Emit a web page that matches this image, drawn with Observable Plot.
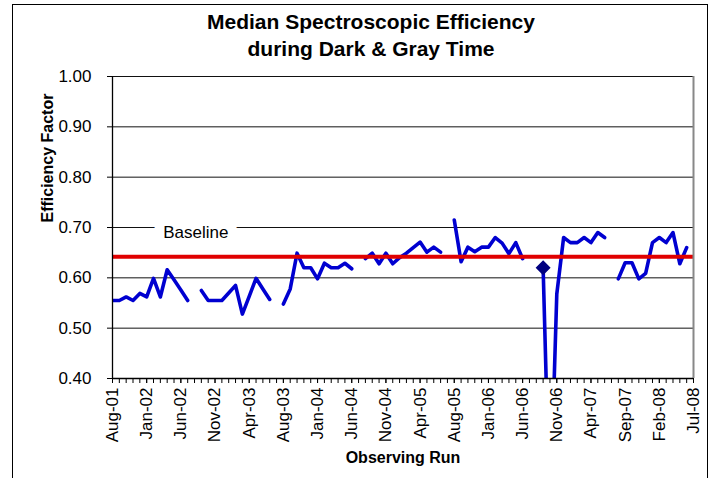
<!DOCTYPE html>
<html>
<head>
<meta charset="utf-8">
<script src="https://cdn.jsdelivr.net/npm/d3@7"></script>
<script src="https://cdn.jsdelivr.net/npm/@observablehq/plot@0.6"></script>
<style>
  html, body { margin: 0; padding: 0; background: #fff; width: 712px; height: 478px; overflow: hidden;
    font-family: "Liberation Sans", Arial, sans-serif; }
  #wrap { position: relative; width: 712px; height: 478px; }
  #title { box-sizing: border-box; padding: 8px 0 0 30px; width: 712px; height: 62px; text-align: center;
    font-weight: bold; font-size: 21px; line-height: 27px; color: #000; }
  #frame { position: absolute; left: 12px; top: 4px; width: 696px; height: 490px; border: 1px solid #000;
    pointer-events: none; box-sizing: border-box; }
  #chart svg { display: block; }
</style>
</head>
<body>
<div id="wrap">
  <div id="title">Median Spectroscopic Efficiency<br>during Dark &amp; Gray Time</div>
  <div id="chart"></div>
  <div id="frame"></div>
</div>
<script>
// Median efficiency per observing run (index 0 = Aug-01 ... 85 = Jul-08); null = no data
const efficiency = [
  0.555, 0.555, 0.562, 0.555, 0.569, 0.562, 0.599, 0.562, 0.616, 0.596,
  0.576, 0.555, null,  0.575, 0.555, 0.555, 0.555, 0.570, 0.585, 0.528,
  0.563, 0.599, 0.578, 0.557, null,  0.548, 0.578, 0.649, 0.620, 0.620,
  0.598, 0.629, 0.620, 0.620, 0.629, 0.618, null,  0.638, 0.649, 0.628,
  0.649, 0.628, 0.640, 0.649, 0.660, 0.671, 0.651, 0.661, 0.651, null,
  0.715, 0.632, 0.661, 0.652, 0.661, 0.661, 0.680, 0.669, 0.648, 0.670,
  0.638, null,  null,  0.620, 0.120, 0.568, 0.680, 0.670, 0.670, 0.680,
  0.670, 0.690, 0.680, null,  0.598, 0.630, 0.630, 0.598, 0.609, 0.670,
  0.680, 0.670, 0.690, 0.628, 0.660, null
];
// Highlighted run (diamond marker)
const highlightRun = [63];
const highlightValue = [0.620];
// Baseline level
const baseline = 0.642;
const baselineLabel = ["Baseline"];
const baselineLabelRun = [12.2];
const baselineLabelValue = [0.690];
// Tick labels: every 5th observing run
const tickLabels = ["Aug-01","Jan-02","Jun-02","Nov-02","Apr-03","Aug-03","Jan-04","Jun-04","Nov-04",
  "Apr-05","Aug-05","Jan-06","Jun-06","Nov-06","Apr-07","Sep-07","Feb-08","Jul-08"];
const labelEvery = 5;
const yTicks = [0.40, 0.50, 0.60, 0.70, 0.80, 0.90, 1.00];
const yGrid = [0.50, 0.60, 0.70, 0.80, 0.90, 1.00];

const rows = efficiency.map((v, i) => ({run: i, value: v}));
const runIdx = rows.map(d => d.run);
const labelIdx = tickLabels.map((_, k) => k * labelEvery);
const highlight = highlightRun.map((r, k) => ({run: r, value: highlightValue[k]}));
const labelRows = baselineLabel.map((t, k) => ({text: t, run: baselineLabelRun[k], value: baselineLabelValue[k]}));
const lastRun = runIdx[runIdx.length - 1];

const chart = Plot.plot({
  width: 712,
  height: 416,
  marginLeft: 112,
  marginRight: 19,
  marginTop: 14,
  marginBottom: 100,
  style: {fontFamily: '"Liberation Sans", Arial, sans-serif', fontSize: "17px", color: "#000",
    background: "transparent", overflow: "visible"},
  x: {type: "linear", domain: [0, lastRun], label: null},
  y: {domain: [0.4, 1.0], label: null},
  marks: [
    Plot.gridY(yGrid, {stroke: "#111", strokeOpacity: 1, strokeWidth: 1}),
    Plot.text(labelRows, {x: "run", y: "value", text: "text", fontSize: 17, fill: "#000",
      stroke: "white", strokeWidth: 20, paintOrder: "stroke"}),
    Plot.line(rows, {x: "run", y: "value", stroke: "#0000d0", strokeWidth: 3.6, clip: true}),
    Plot.ruleY([baseline], {stroke: "#e00000", strokeWidth: 4}),
    Plot.dot(highlight, {x: "run", y: "value", symbol: "diamond2", r: 5.8, fill: "#000080", stroke: "#000080"}),
    Plot.ruleX([lastRun], {stroke: "#888", strokeWidth: 2}),
    Plot.ruleX([0], {stroke: "#000", strokeWidth: 1.3}),
    Plot.ruleY([0.4], {stroke: "#000", strokeWidth: 1.3}),
    Plot.axisY(yTicks, {tickSize: 5, tickPadding: 16, tickFormat: d3.format(".2f"), fontSize: 17, label: null, stroke: "#000"}),
    Plot.axisX(runIdx, {tickSize: 5, tickFormat: () => "", label: null, stroke: "#000"}),
    Plot.axisX(labelIdx, {tickSize: 5, tickPadding: 4, tickRotate: -90, fontSize: 17, label: null, stroke: "#000",
      tickFormat: i => tickLabels[i / labelEvery]}),
    Plot.text(["Efficiency Factor"], {frameAnchor: "left", dx: -65, dy: -5, rotate: -90,
      fontWeight: "bold", fontSize: 16, fill: "#000"}),
    Plot.text(["Observing Run"], {frameAnchor: "bottom", dy: 84, fontWeight: "bold", fontSize: 16, fill: "#000"})
  ]
});
document.getElementById("chart").appendChild(chart);
</script>
</body>
</html>
